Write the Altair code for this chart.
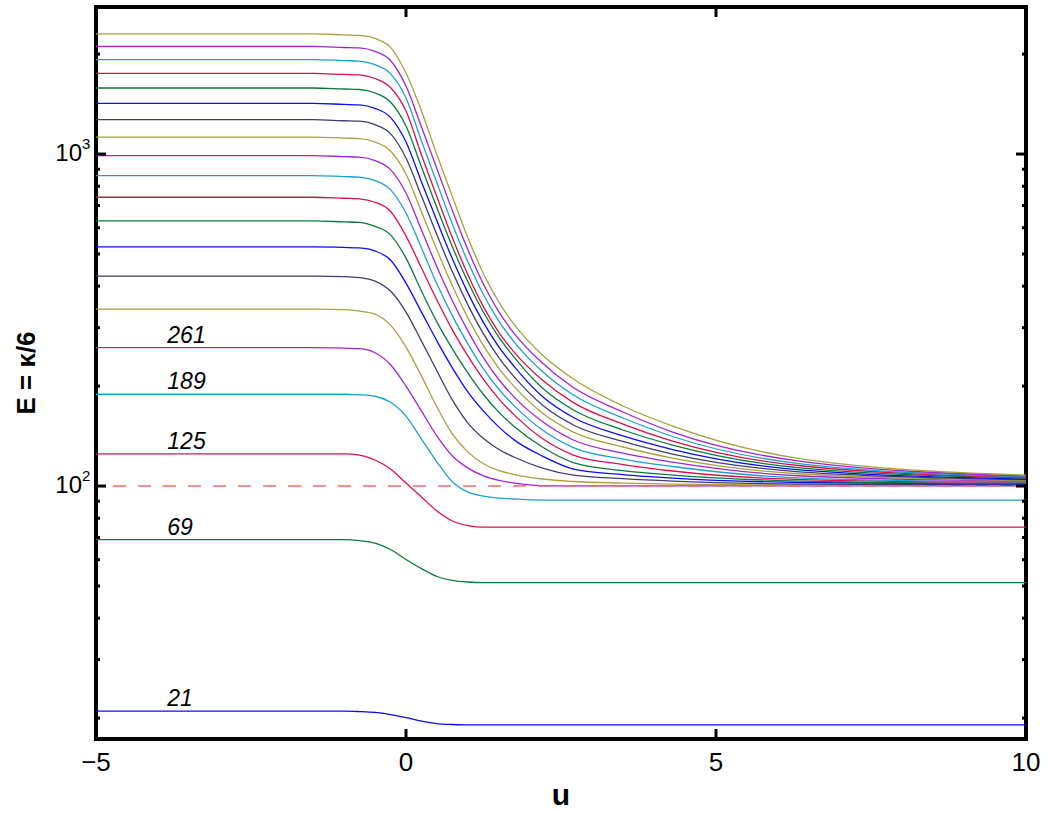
import altair as alt
import pandas as pd

# sample positions along u shared by every curve
u_points = [-5, -1.5, -1, -0.75, -0.5, -0.25, 0, 0.25, 0.5, 0.75, 1, 1.25, 1.5, 1.75,
            2.2, 2.7, 3.5, 4.3, 6.4, 10]

# E along each curve, named by its value at u -> -inf
e_21 = [21, 21, 21, 20.93, 20.8, 20.5, 20.07, 19.59, 19.26, 19.13, 19.07, 19.07, 19.07, 19.07,
        19.07, 19.07, 19.07, 19.07, 19.07, 19.07]
e_69 = [69, 69, 69, 68.5, 67.3, 64.4, 60.1, 56.4, 53.4, 52.0, 51.4, 51.2, 51.2, 51.2,
        51.2, 51.2, 51.2, 51.2, 51.2, 51.2]
e_125 = [125, 125, 125, 124, 119.8, 112.5, 102.1, 92.65, 84.07, 78.45, 76.0, 75.2, 75.2, 75.2,
         75.2, 75.2, 75.2, 75.2, 75.2, 75.2]
e_189 = [189, 189, 189, 188.3, 186.4, 178.8, 162.4, 138.5, 118.1, 102.8, 95.9, 93.3, 92.0, 91.4,
         90.74, 90.74, 90.74, 90.74, 90.74, 90.74]
e_261 = [261, 261, 260.1, 259.2, 252.1, 232.0, 200.0, 168.1, 141.4, 123.1, 113.2, 107.3, 104.0,
         102.1, 100.35, 100.1, 100.1, 100.1, 100.1, 100.1]
e_341 = [341, 341, 339.8, 336.3, 329.4, 305.2, 262.2, 214.4, 172.9, 143.4, 126.5, 116.7, 111.2,
         108.3, 105.0, 103.2, 102.1, 101.4, 100.7, 100.2]
e_429 = [429, 429, 427.5, 424.6, 414.4, 386.6, 334.1, 273.3, 222.0, 181.5, 154.7, 139.0, 128.8,
         122.1, 113.3, 107.9, 105.3, 103.5, 101.4, 100.7]
e_525 = [525, 525, 523.2, 521.4, 510.6, 479.7, 408.6, 334.1, 273.3, 226.6, 191.8, 168.1, 150.5,
         137.5, 123.1, 112.5, 108.3, 105.7, 102.5, 101.4]
e_629 = [629, 629, 624.7, 622.5, 605.5, 570.8, 486.0, 386.5, 311.7, 258.6, 218.9, 188.7, 166.7,
         150.9, 131.1, 117.7, 111.3, 107.9, 103.5, 101.7]
e_741 = [741, 741, 735.9, 733.3, 715.8, 672.4, 566.2, 453.5, 363.2, 294.9, 246.2, 209.5, 182.7,
         163.5, 139.0, 124.0, 116.1, 111.0, 104.6, 102.5]
e_861 = [861, 861, 855.1, 852.1, 831.7, 781.3, 664.1, 521.0, 405.8, 325.0, 267.7, 225.3, 195.3,
         174.1, 147.5, 130.6, 120.6, 114.5, 105.7, 102.8]
e_989 = [989, 989, 982.2, 978.8, 955.3, 897.5, 763.0, 590.2, 456.6, 360.7, 292.9, 243.4, 209.0,
         185.0, 156.4, 137.6, 125.7, 118.1, 107.2, 103.5]
e_1125 = [1125, 1125, 1117, 1113, 1087, 1021, 870.5, 668.8, 513.7, 400.2, 320.5, 264.7, 225.8,
          198.9, 165.9, 145.4, 131.1, 121.4, 108.7, 103.9]
e_1269 = [1269, 1269, 1260, 1256, 1226, 1152, 972.6, 747.3, 570.1, 441.0, 350.8, 287.4, 243.4,
          212.8, 175.4, 152.7, 136.2, 124.8, 110.2, 104.5]
e_1421 = [1421, 1421, 1411, 1406, 1373, 1290, 1087, 823.5, 628.2, 482.6, 381.2, 310.7, 262.2,
          228.6, 186.0, 160.8, 141.5, 128.8, 111.7, 105.0]
e_1581 = [1581, 1581, 1570, 1565, 1527, 1435, 1214, 913.9, 687.6, 524.6, 411.5, 333.7, 280.3,
          243.7, 197.3, 169.4, 147.5, 132.9, 113.3, 105.7]
e_1749 = [1749, 1749, 1737, 1731, 1689, 1587, 1348, 993.0, 742.1, 558.4, 432.0, 346.5, 290.0,
          252.3, 208.6, 178.4, 153.7, 136.6, 114.9, 106.1]
e_1925 = [1925, 1925, 1912, 1905, 1859, 1747, 1475, 1094, 817.8, 613.2, 472.7, 377.0, 313.5,
          270.8, 221.2, 188.0, 160.3, 141.0, 116.5, 106.7]
e_2109 = [2109, 2109, 2094, 2087, 2037, 1914, 1603, 1206, 901.3, 673.4, 513.7, 405.5, 334.1,
          287.4, 234.7, 198.0, 167.1, 145.4, 118.5, 107.2]
e_2301 = [2301, 2301, 2285, 2277, 2230, 2096, 1754, 1348, 993.0, 742.1, 558.5, 435.9, 357.5,
          305.8, 248.1, 210.0, 174.2, 151.6, 120.6, 107.9]

levels = [21, 69, 125, 189, 261, 341, 429, 525, 629, 741,
          861, 989, 1125, 1269, 1421, 1581, 1749, 1925, 2109, 2301]
series = [e_21, e_69, e_125, e_189, e_261, e_341, e_429, e_525, e_629, e_741,
          e_861, e_989, e_1125, e_1269, e_1421, e_1581, e_1749, e_1925, e_2109, e_2301]

# line colour cycle
color_cycle = ["#0a0aff", "#0b7a3a", "#dc1048", "#1c9fd4", "#a024d6", "#a8a03e", "#3e3e72"]

labelled_levels = [21, 69, 125, 189, 261]
label_u = -3.85

reference_E = 100
x_tick_values = [-5, 0, 5, 10]
x_tick_text = ["\u22125", "0", "5", "10"]
y_major = [100, 1000]
y_major_exp = ["2", "3"]
y_minor = [20, 30, 40, 50, 60, 70, 80, 90, 200, 300, 400, 500, 600, 700, 800, 900, 2000]

W, H = 930, 732
FONT = "Liberation Sans"

rows = []
for lvl, vals in zip(levels, series):
    for u, e in zip(u_points, vals):
        rows.append({"u": u, "E": e, "curve": str(lvl)})
df = pd.DataFrame(rows)

curve_colors = [color_cycle[i % len(color_cycle)] for i in range(len(levels))]

xs = alt.Scale(domain=[-5, 10], nice=False, zero=False)
ys = alt.Scale(type="log", domain=[17.3, 2773], nice=False)
X = lambda: alt.X("u:Q", scale=xs, axis=None)
Y = lambda: alt.Y("E:Q", scale=ys, axis=None)

lines = alt.Chart(df).mark_line(interpolate="monotone", strokeWidth=1.3, clip=True).encode(
    x=X(), y=Y(),
    color=alt.Color("curve:N", scale=alt.Scale(domain=[str(l) for l in levels], range=curve_colors),
                    legend=None),
    detail="curve:N",
)

dashed = alt.Chart(pd.DataFrame({"E": [reference_E]})).mark_rule(
    color="#f26a6a", strokeWidth=1.5, strokeDash=[13, 12]
).encode(y=Y())

lab_df = pd.DataFrame({"u": [label_u] * len(labelled_levels), "E": labelled_levels,
                       "txt": [str(v) for v in labelled_levels]})
curve_labels = alt.Chart(lab_df).mark_text(
    align="left", baseline="alphabetic", dy=-5, font=FONT, fontSize=23, fontStyle="italic",
    color="black"
).encode(x=X(), y=Y(), text="txt:N")

minor_df = pd.DataFrame({"E": y_minor})
major_df = pd.DataFrame({"E": y_major, "base": ["10"] * len(y_major), "exp": y_major_exp})
xt_df = pd.DataFrame({"u": x_tick_values, "txt": x_tick_text})


def y_ticks(data, length):
    left = alt.Chart(data).mark_rule(color="black", strokeWidth=3).encode(
        y=Y(), x=alt.value(0), x2=alt.value(length))
    right = alt.Chart(data).mark_rule(color="black", strokeWidth=3).encode(
        y=Y(), x=alt.value(W - length), x2=alt.value(W))
    return [left, right]


x_ticks_bottom = alt.Chart(xt_df).mark_rule(color="black", strokeWidth=3).encode(
    x=X(), y=alt.value(H), y2=alt.value(H - 10))
x_ticks_top = alt.Chart(xt_df).mark_rule(color="black", strokeWidth=3).encode(
    x=X(), y=alt.value(0), y2=alt.value(10))

x_labels = alt.Chart(xt_df).mark_text(
    align="center", baseline="top", font=FONT, fontSize=26, color="black"
).encode(x=X(), y=alt.value(H + 11), text="txt:N")

x_title = alt.Chart(pd.DataFrame({"t": ["u"]})).mark_text(
    align="center", baseline="alphabetic", font=FONT, fontSize=30, fontWeight="bold",
    color="black"
).encode(x=alt.value(W / 2), y=alt.value(H + 66), text="t:N")

y_base = alt.Chart(major_df).mark_text(
    align="right", baseline="middle", font=FONT, fontSize=24, color="black"
).encode(x=alt.value(-14), y=Y(), text="base:N")
y_exp = alt.Chart(major_df).mark_text(
    align="left", baseline="alphabetic", dy=-5, font=FONT, fontSize=15, color="black"
).encode(x=alt.value(-14), y=Y(), text="exp:N")

y_title = alt.Chart(pd.DataFrame({"t": ["E = \u03ba/6"]})).mark_text(
    angle=270, align="center", baseline="middle", font=FONT, fontSize=26, fontWeight="bold",
    color="black"
).encode(x=alt.value(-69), y=alt.value(H / 2), text="t:N")

layers = [lines, dashed, curve_labels] + y_ticks(minor_df, 4) + y_ticks(major_df, 10) + [
    x_ticks_bottom, x_ticks_top, x_labels, x_title, y_base, y_exp, y_title]

chart = alt.layer(*layers).properties(
    width=W, height=H,
    autosize=alt.AutoSizeParams(type="none"),
    padding={"left": 96, "top": 7, "right": 22, "bottom": 74},
    background="white",
).configure_view(stroke="black", strokeWidth=4)

chart.save("out.html", embed_options={"renderer": "svg", "actions": False})
